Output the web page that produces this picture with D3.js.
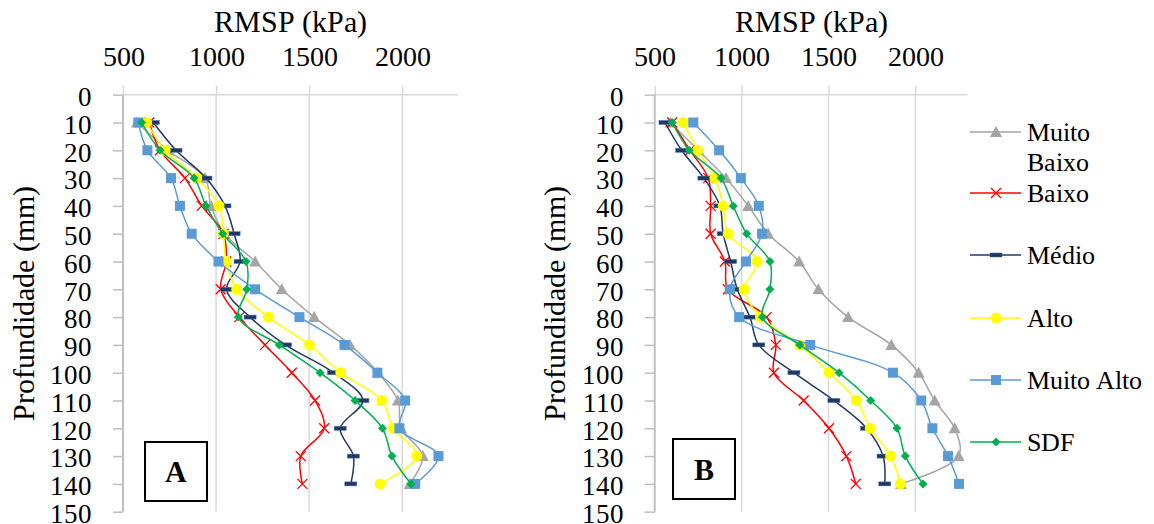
<!DOCTYPE html>
<html><head><meta charset="utf-8">
<script src="https://cdn.jsdelivr.net/npm/d3@7"></script>
<style>
@font-face{font-family:"TNRlike";src:local("Liberation Serif"),local("LiberationSerif"),local("LiberationSerif-Regular"),local("Liberation Serif Regular"),local("DejaVu Serif"),local("DejaVuSerif"),local("Noto Serif"),local("NotoSerif-Regular");font-weight:normal;}
@font-face{font-family:"TNRlike";src:local("Liberation Serif Bold"),local("LiberationSerif-Bold"),local("DejaVu Serif Bold"),local("DejaVuSerif-Bold"),local("NotoSerif-Bold");font-weight:bold;}
body{margin:0;background:#fff}
</style></head>
<body><svg id="c" width="1154" height="524"></svg>
<script>
// ---- data ----
const depths = [10,20,30,40,50,60,70,80,90,100,110,120,130,140];
const seriesNames = ["Muito Baixo","Baixo","Médio","Alto","Muito Alto","SDF"];
const xTicks = [500,1000,1500,2000];
const yTicks = [0,10,20,30,40,50,60,70,80,90,100,110,120,130,140,150];

// Panel A values (kPa)
const A_muitoBaixo = [575,742,941,973,1046,1210,1353,1527,1720,1870,1977,1995,2111,2040];
const A_baixo      = [641,699,833,923,1040,1054,1025,1125,1263,1407,1532,1581,1455,1464];
const A_medio      = [663,785,946,1048,1097,1129,1057,1183,1373,1631,1789,1667,1738,1724];
const A_alto       = [627,726,896,1016,1039,1054,1111,1281,1502,1670,1891,1953,2079,1882];
const A_muitoAlto  = [582,631,758,806,869,1013,1210,1448,1690,1867,2016,1985,2195,2070];
const A_sdf        = [600,699,882,946,1036,1161,1165,1120,1340,1559,1747,1894,1945,2047];

// Panel B values (kPa)
const B_muitoBaixo = [590,751,910,1038,1153,1331,1442,1613,1862,2019,2111,2226,2249,1917];
const B_baixo      = [600,703,808,822,822,904,921,1144,1197,1186,1357,1503,1603,1657];
const B_medio      = [559,655,783,875,894,937,975,1048,1099,1301,1531,1719,1814,1824];
const B_alto       = [665,747,847,894,923,1090,1015,1109,1335,1504,1661,1741,1858,1914];
const B_muitoAlto  = [722,871,996,1099,1118,1025,933,986,1395,1871,2034,2098,2188,2251];
const B_sdf        = [601,699,881,952,1029,1163,1163,1120,1335,1561,1743,1894,1942,2044];

const colors  = ["#A5A5A5","#FF0000","#1F3864","#FFFF00","#5B9BD5","#00B050"];
const symbols = ["triangle","x","dash","circle","square","diamond"];

const FONT = '"TNRlike","Liberation Serif","DejaVu Serif",serif';

const panels = [
  {label:"A", data:[A_muitoBaixo,A_baixo,A_medio,A_alto,A_muitoAlto,A_sdf], x0:123, x1:458, box:[145,442,62,59]},
  {label:"B", data:[B_muitoBaixo,B_baixo,B_medio,B_alto,B_muitoAlto,B_sdf], x0:654.7, x1:967.5, box:[673,439,62,60]}
];

const yTop = 94.7, yBot = 511.7;

function drawMarker(g, type, color){
  if(type==="triangle"){
    g.append("path").attr("d","M0,-6L6,5L-6,5Z").attr("fill",color);
  } else if(type==="x"){
    g.append("path").attr("d","M-5,-5L5,5M-5,5L5,-5").attr("stroke",color).attr("stroke-width",1.3).attr("fill","none");
  } else if(type==="dash"){
    g.append("rect").attr("x",-6).attr("y",-2).attr("width",12).attr("height",4).attr("fill",color).attr("stroke","#4a6fa5").attr("stroke-width",0.5);
  } else if(type==="circle"){
    g.append("circle").attr("r",5.5).attr("fill",color);
  } else if(type==="square"){
    g.append("rect").attr("x",-5).attr("y",-5).attr("width",10).attr("height",10).attr("fill",color);
  } else if(type==="diamond"){
    g.append("path").attr("d","M0,-4.5L4.5,0L0,4.5L-4.5,0Z").attr("fill",color);
  }
}

function draw(){
  const svg = d3.select("#c").attr("font-family",FONT);
  svg.selectAll("*").remove();
  panels.forEach(p=>{
    const x = d3.scaleLinear().domain([500,2300]).range([p.x0,p.x1]);
    const y = d3.scaleLinear().domain([0,150]).range([yTop,yBot]);
    const g = svg.append("g");

    g.selectAll(".vg").data(xTicks.slice(1)).enter().append("line")
      .attr("x1",d=>x(d)).attr("x2",d=>x(d)).attr("y1",yTop).attr("y2",yBot)
      .attr("stroke","#D9D9D9").attr("stroke-width",1.5);

    const ax = g.append("g").attr("transform",`translate(0,${yTop})`)
      .call(d3.axisTop(x).tickValues(xTicks).tickSize(9).tickPadding(20).tickFormat(d3.format("d")));
    ax.attr("font-family",FONT).attr("font-size",28);
    ax.select(".domain").attr("stroke","#D9D9D9").attr("stroke-width",1.5).attr("d",`M${p.x0},0H${p.x1}`);
    ax.selectAll(".tick line").attr("stroke","#D9D9D9").attr("stroke-width",1.5);
    ax.selectAll(".tick text").attr("fill","#000");

    const ay = g.append("g").attr("transform",`translate(${p.x0},0)`)
      .call(d3.axisLeft(y).tickValues(yTicks).tickSize(10).tickPadding(21).tickFormat(d3.format("d")));
    ay.attr("font-family",FONT).attr("font-size",27);
    ay.select(".domain").attr("stroke","#BFBFBF").attr("stroke-width",2).attr("d",`M0,${yTop}V${yBot}`);
    ay.selectAll(".tick line").attr("stroke","#BFBFBF").attr("stroke-width",1.5);
    ay.selectAll(".tick text").attr("fill","#000").attr("dy","0.4em");

    g.append("text").attr("x",(p.x0+p.x1)/2).attr("y",32).attr("text-anchor","middle").attr("font-size",30).text("RMSP (kPa)");
    g.append("text").attr("transform",`translate(${p.x0-100},303) rotate(-90)`).attr("text-anchor","middle").attr("dy","0.35em").attr("font-size",30).text("Profundidade (mm)");

    const line = d3.line().x(d=>x(d[1])).y(d=>y(d[0])).curve(d3.curveCatmullRom.alpha(0.5));
    p.data.forEach((vals,i)=>{
      const pts = depths.map((d,k)=>[d,vals[k]]);
      g.append("path").datum(pts).attr("d",line).attr("fill","none").attr("stroke",colors[i]).attr("stroke-width",1.5);
      pts.forEach(pt=>{
        const mg = g.append("g").attr("transform",`translate(${x(pt[1])},${y(pt[0])})`);
        drawMarker(mg, symbols[i], colors[i]);
      });
    });

    g.append("rect").attr("x",p.box[0]).attr("y",p.box[1]).attr("width",p.box[2]).attr("height",p.box[3])
      .attr("fill","#fff").attr("stroke","#000").attr("stroke-width",2);
    g.append("text").attr("x",p.box[0]+p.box[2]/2).attr("y",p.box[1]+p.box[3]/2).attr("dy","0.35em")
      .attr("text-anchor","middle").attr("font-size",30).attr("font-weight","bold").text(p.label);
  });

  const legRows = [132,193,255,318,380,442];
  const leg = svg.append("g");
  seriesNames.forEach((name,i)=>{
    const yy = legRows[i];
    leg.append("line").attr("x1",970).attr("x2",1021).attr("y1",yy).attr("y2",yy).attr("stroke",colors[i]).attr("stroke-width",1.5);
    const mg = leg.append("g").attr("transform",`translate(996,${yy})`);
    drawMarker(mg, symbols[i], colors[i]);
    const t = leg.append("text").attr("x",1027).attr("y",yy).attr("dy","0.35em").attr("font-size",26);
    if(name==="Muito Baixo"){
      t.append("tspan").attr("x",1027).text("Muito");
      t.append("tspan").attr("x",1027).attr("dy","1.15em").text("Baixo");
    } else t.text(name);
  });
}
draw();
if(document.fonts && document.fonts.load){
  Promise.all([document.fonts.load('30px "TNRlike"'),document.fonts.load('bold 30px "TNRlike"')]).then(draw).catch(()=>{});
}
</script>
</body></html>
